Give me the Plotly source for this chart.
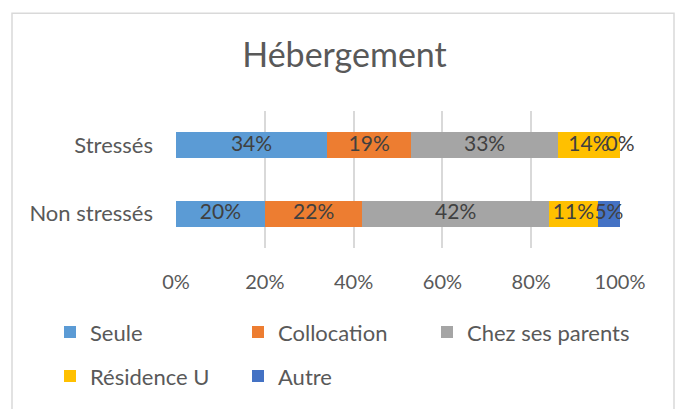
import plotly.graph_objects as go

# Housing situation by stress group (percent of respondents)
groups = ["Stressés", "Non stressés"]
seule = [34, 20]
collocation = [19, 22]
chez_parents = [33, 42]
residence_u = [14, 11]
autre = [0, 5]

series_names = ["Seule", "Collocation", "Chez ses parents", "Résidence U", "Autre"]
series_values = [seule, collocation, chez_parents, residence_u, autre]
series_colors = ["#5B9BD5", "#ED7D31", "#A5A5A5", "#FFC000", "#4472C4"]
# legend slot for each series: two rows, third column only on the first row
series_legends = ["legend", "legend", "legend3", "legend2", "legend2"]
tick_values = [0, 20, 40, 60, 80, 100]
tick_labels = ["0%", "20%", "40%", "60%", "80%", "100%"]

FONT = "Lato"
GREY_TEXT = "#595959"
LABEL_TEXT = "#404040"

# Plot-area geometry in pixels
W, H = 675, 409
L, R, T, B = 176, 55, 111, 158
PW, PH = W - L - R, H - T - B


def px_x(px):
    return (px - L) / PW


def px_y(py):
    return (H - B - py) / PH


fig = go.Figure()

# Stacked bars
for name, vals, color, leg in zip(series_names, series_values, series_colors, series_legends):
    fig.add_trace(go.Bar(
        name=name,
        y=groups,
        x=vals,
        orientation="h",
        marker=dict(color=color, line=dict(width=0)),
        textposition="none",
        legend=leg,
        hoverinfo="skip",
    ))

# Value labels centred on each segment (including the zero-width one)
label_x, label_y, label_text = [], [], []
for gi, g in enumerate(groups):
    start = 0
    for vals in series_values:
        v = vals[gi]
        label_x.append(start + v / 2)
        label_y.append(g)
        label_text.append(f"{v}%")
        start += v
fig.add_trace(go.Scatter(
    x=label_x, y=label_y, text=label_text, mode="text",
    textfont=dict(family=FONT, size=21, color=LABEL_TEXT),
    textposition="middle center",
    showlegend=False, hoverinfo="skip", cliponaxis=False,
))

# Outer chart border
fig.add_shape(
    type="rect", xref="paper", yref="paper",
    x0=px_x(12), x1=px_x(674),
    y0=px_y(430), y1=px_y(11),
    line=dict(color="#D9D9D9", width=1.5), fillcolor="rgba(0,0,0,0)",
    layer="below",
)

legend_common = dict(
    orientation="h",
    xanchor="left",
    yanchor="middle",
    font=dict(family=FONT, size=22, color=GREY_TEXT),
    bgcolor="rgba(0,0,0,0)",
    traceorder="normal",
    itemclick=False,
    itemdoubleclick=False,
)

fig.update_layout(
    width=W,
    height=H,
    margin=dict(l=L, r=R, t=T, b=B),
    paper_bgcolor="white",
    plot_bgcolor="white",
    barmode="stack",
    bargap=0.614,
    title=dict(
        text="Hébergement",
        x=px_x(344.5),
        xref="paper",
        xanchor="center",
        y=1 - 55 / H,
        yref="container",
        yanchor="middle",
        font=dict(family=FONT, size=34, color=GREY_TEXT),
    ),
    xaxis=dict(
        range=[0, 100],
        tickvals=tick_values,
        ticktext=tick_labels,
        showgrid=True,
        gridcolor="#D9D9D9",
        gridwidth=1.5,
        zeroline=False,
        showline=False,
        ticks="",
        ticklabelstandoff=20,
        tickfont=dict(family=FONT, size=20, color=GREY_TEXT),
        fixedrange=True,
    ),
    yaxis=dict(
        categoryorder="array",
        categoryarray=groups,
        autorange="reversed",
        showgrid=False,
        zeroline=False,
        showline=False,
        ticks="",
        ticklabelstandoff=22,
        tickfont=dict(family=FONT, size=22, color=GREY_TEXT),
        fixedrange=True,
    ),
    legend=dict(legend_common, x=px_x(50), y=px_y(337),
                entrywidth=143, entrywidthmode="pixels"),
    legend2=dict(legend_common, x=px_x(50), y=px_y(382),
                 entrywidth=143, entrywidthmode="pixels"),
    legend3=dict(legend_common, x=px_x(427), y=px_y(337)),
    showlegend=True,
)

fig.write_html("out.html")
